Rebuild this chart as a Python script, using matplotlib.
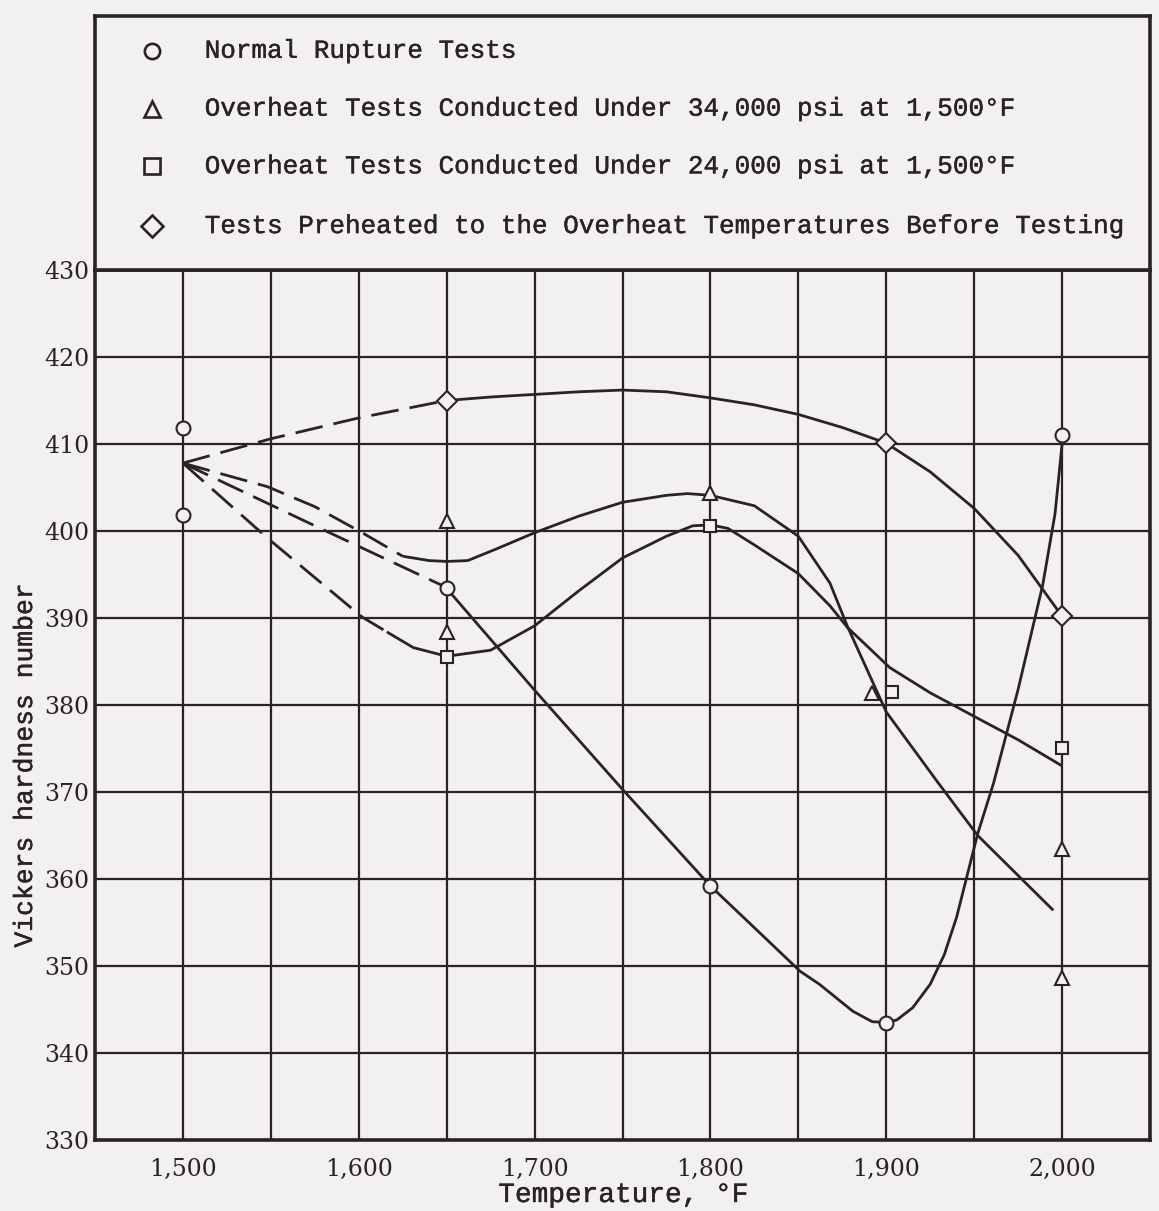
import matplotlib
matplotlib.use("Agg")
import matplotlib.pyplot as plt
import matplotlib.patheffects as pe

x_major = [1500, 1600, 1700, 1800, 1900, 2000]
x_labels = ["1,500", "1,600", "1,700", "1,800", "1,900", "2,000"]
x_minor = [1450, 1550, 1650, 1750, 1850, 1950, 2050]
y_ticks = [330, 340, 350, 360, 370, 380, 390, 400, 410, 420, 430]

# meetpunten
norm_x = [1500, 1500, 1650, 1800, 1900, 2000]
norm_y = [411.8, 401.8, 393.5, 359.2, 343.5, 411.0]
tri_x = [1650, 1650, 1800, 1892, 2000, 2000]
tri_y = [401.2, 388.4, 404.4, 381.4, 363.5, 348.6]
sq_x = [1650, 1800, 1903, 2000]
sq_y = [385.5, 400.6, 381.5, 375.1]
dia_x = [1650, 1900, 2000]
dia_y = [415.0, 410.1, 390.2]

# curves: gestippeld stuk en getrokken stuk
dia_dash_x = [1500, 1550, 1600, 1650]
dia_dash_y = [407.8, 410.6, 413.0, 415.0]
dia_line_x = [1650, 1675, 1700, 1725, 1750, 1775, 1800, 1825, 1850, 1875, 1900,
              1925, 1950, 1975, 2000]
dia_line_y = [415.0, 415.4, 415.7, 416.0, 416.2, 416.0, 415.3, 414.5, 413.4, 411.9, 410.1,
              406.8, 402.6, 397.2, 390.2]

tri_dash_x = [1500, 1548, 1575, 1602, 1625]
tri_dash_y = [407.8, 405.1, 402.8, 399.8, 397.1]
tri_line_x = [1625, 1640, 1650, 1662, 1679, 1700, 1725, 1750, 1775, 1787, 1800,
              1825, 1850, 1868, 1878, 1900, 1929, 1952, 1995]
tri_line_y = [397.1, 396.6, 396.5, 396.6, 398.0, 399.8, 401.7, 403.3, 404.1, 404.3, 404.1,
              402.9, 399.4, 394.0, 389.0, 379.2, 371.2, 365.0, 356.4]

sq_dash_x = [1500, 1548, 1602, 1616]
sq_dash_y = [407.8, 399.2, 390.1, 388.4]
sq_line_x = [1616, 1631, 1650, 1675, 1700, 1725, 1750, 1775, 1790, 1800, 1810,
             1825, 1850, 1868, 1878, 1902, 1925, 1949, 1975, 2000]
sq_line_y = [388.4, 386.6, 385.6, 386.3, 389.1, 393.1, 396.9, 399.4, 400.6, 400.7, 400.3,
             398.4, 395.1, 391.4, 388.9, 384.3, 381.4, 378.8, 376.0, 373.0]

norm_dash_x = [1500, 1575, 1650]
norm_dash_y = [407.8, 400.6, 393.5]
norm_line_x = [1650, 1700, 1750, 1800, 1825, 1851, 1862, 1881, 1892, 1900,
               1906, 1915, 1925, 1933, 1940, 1952, 1961, 1975, 1989, 1996, 2000]
norm_line_y = [393.4, 381.7, 370.3, 359.2, 354.4, 349.4, 347.9, 344.8, 343.6, 343.5,
               343.8, 345.2, 347.9, 351.3, 355.6, 365.2, 371.0, 381.8, 393.8, 402.0, 410.0]

legend_labels = ["Normal Rupture Tests",
                 "Overheat Tests Conducted Under 34,000 psi at 1,500°F",
                 "Overheat Tests Conducted Under 24,000 psi at 1,500°F",
                 "Tests Preheated to the Overheat Temperatures Before Testing"]
legend_markers = ["o", "^", "s", "D"]

ink = "#2a2326"
paper = "#f2f1ef"
plt.rcParams["font.family"] = "DejaVu Serif"
label_font = ["Liberation Mono", "DejaVu Sans Mono"]
dik = [pe.withStroke(linewidth=0.3, foreground=ink)]  # typemachine-letters iets zwaarder

W, H = 1159, 1211
fig = plt.figure(figsize=(W / 100, H / 100), dpi=100, facecolor=paper)
ax = fig.add_axes([95 / W, 1 - 1140 / H, 1055 / W, 870 / H], facecolor=paper)
ax.set_xlim(1450, 2050)
ax.set_ylim(330, 430)
ax.set_xticks(x_major)
ax.set_xticklabels(x_labels)
ax.set_xticks(x_minor, minor=True)
ax.set_yticks(y_ticks)
ax.grid(which="both", color=ink, lw=1.6, zorder=1)
ax.tick_params(which="both", length=0, colors=ink, labelsize=17)
ax.tick_params(axis="x", pad=13)
ax.tick_params(axis="y", pad=4)
for s in ax.spines.values():
    s.set_linewidth(2.6)
    s.set_color(ink)

dash = (10, 4)
lw = 2.0
for dx, dy, lx, ly in [(dia_dash_x, dia_dash_y, dia_line_x, dia_line_y),
                       (tri_dash_x, tri_dash_y, tri_line_x, tri_line_y),
                       (sq_dash_x, sq_dash_y, sq_line_x, sq_line_y),
                       (norm_dash_x, norm_dash_y, norm_line_x, norm_line_y)]:
    ax.plot(dx, dy, color=ink, lw=lw, dashes=dash, zorder=3)
    ax.plot(lx, ly, color=ink, lw=lw, zorder=3, solid_capstyle="butt",
            solid_joinstyle="round")

mk = dict(ls="none", mfc=paper, mec=ink, mew=1.5, zorder=5)
ax.plot(norm_x, norm_y, marker="o", ms=10, **mk)
ax.plot(tri_x, tri_y, marker="^", ms=10, **mk)
ax.plot(sq_x, sq_y, marker="s", ms=9, **mk)
ax.plot(dia_x, dia_y, marker="D", ms=10, **mk)

fig.text(25 / W, 1 - 765 / H, "Vickers hardness number", rotation=90,
         ha="center", va="center", fontsize=19, color=ink, family=label_font,
         path_effects=dik)
fig.text(623 / W, 1 - 1195 / H, "Temperature, °F", ha="center", va="center",
         fontsize=20, color=ink, family=label_font, path_effects=dik)

# legenda-kader boven de grafiek
leg = fig.add_axes([95 / W, 1 - 270 / H, 1055 / W, 254 / H], facecolor=paper)
leg.set_xlim(0, 1)
leg.set_ylim(0, 1)
leg.set_xticks([])
leg.set_yticks([])
for s in leg.spines.values():
    s.set_linewidth(2.6)
    s.set_color(ink)
rows = [0.863, 0.635, 0.408, 0.173]
for yy, m, lab in zip(rows, legend_markers, legend_labels):
    leg.plot(0.054, yy, marker=m, ms=11, ls="none", mfc=paper, mec=ink, mew=1.9)
    leg.text(0.104, yy, lab, va="center", ha="left", fontsize=18.7, color=ink,
             family=label_font, path_effects=dik)

fig.savefig("out.png", dpi=100, facecolor=paper)
